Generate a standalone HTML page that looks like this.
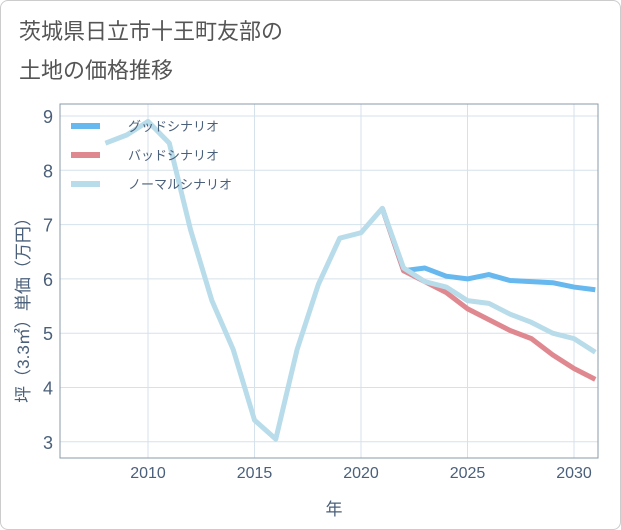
<!DOCTYPE html>
<html><head><meta charset="utf-8"><style>
body{margin:0;background:#fff;}
#wrap{position:relative;width:619px;height:528px;border:1px solid #ccc;border-radius:8px;background:#fff;overflow:hidden;font-family:"Liberation Sans","Noto Sans CJK JP",sans-serif;}
</style></head><body>
<div id="wrap">
<svg id="c" width="621" height="530"></svg>
</div>
<script>
const years=[2008,2009,2010,2011,2012,2013,2014,2015,2016,2017,2018,2019,2020,2021,2022,2023,2024,2025,2026,2027,2028,2029,2030,2031];
const normalVals=[8.5,8.65,8.9,8.5,6.9,5.6,4.7,3.4,3.05,4.7,5.9,6.75,6.85,7.3,6.2,5.95,5.85,5.6,5.55,5.35,5.2,5.0,4.9,4.65];
const futYears=[2021,2022,2023,2024,2025,2026,2027,2028,2029,2030,2031];
const goodVals=[7.3,6.15,6.2,6.05,6.0,6.08,5.97,5.95,5.93,5.85,5.8];
const badVals=[7.3,6.15,5.95,5.75,5.45,5.25,5.05,4.9,4.6,4.35,4.15];
const xTicks=[2010,2015,2020,2025,2030];
const yTicks=[3,4,5,6,7,8,9];
const legendLabels=["グッドシナリオ","バッドシナリオ","ノーマルシナリオ"];
const colors=["#66b8ee","#e08890","#b8dcea"];

const NS="http://www.w3.org/2000/svg";
const svg=document.getElementById('c');
const L=59,R=597,T=103,B=457;
const X=y=>147+(y-2010)*21.3;
const Y=v=>115+(9-v)*54.3;
function mk(t,a,p){const e=document.createElementNS(NS,t);for(const k in a)e.setAttribute(k,a[k]);(p||svg).appendChild(e);return e;}
function txt(s,a){const e=mk('text',a);e.textContent=s;return e;}

const t1=txt("茨城県日立市十王町友部の",{x:18,y:38,'font-size':22,fill:'#555'});


const t2=txt("土地の価格推移",{x:18,y:77,'font-size':22,fill:'#555'});



for(const v of yTicks){
 const g=mk('line',{x1:L,x2:R,y1:Y(v),y2:Y(v),stroke:'#d5e2ec','stroke-width':1});
 
 
 const t=txt(String(v),{x:52,y:Y(v)+7,'font-size':18,fill:'#4a5f7a','text-anchor':'end'});
 
 
}
for(const v of xTicks){
 const g=mk('line',{x1:X(v),x2:X(v),y1:T,y2:B,stroke:'#d5e2ec','stroke-width':1});
 
 
 const t=txt(String(v),{x:X(v),y:477,'font-size':16,fill:'#4a5f7a','text-anchor':'middle'});
 
 
}
const fr=mk('rect',{x:L,y:T,width:R-L,height:B-T,fill:'none',stroke:'#8a9aaa','stroke-width':1});



const cp=mk('clipPath',{id:'cp'});mk('rect',{x:L,y:T,width:R-L,height:B-T},cp);
function line(xs,vs,col,name){
 const d=xs.map((y,i)=>(i?'L':'M')+X(y)+','+Y(vs[i])).join(' ');
 const p=mk('path',{d,fill:'none',stroke:col,'stroke-width':5,'stroke-linejoin':'round','clip-path':'url(#cp)'});
 
 
}
line(futYears,goodVals,colors[0],'good-scenario-line');
line(futYears,badVals,colors[1],'bad-scenario-line');
line(years,normalVals,colors[2],'normal-scenario-line');

legendLabels.forEach((s,i)=>{
 const y=125+i*29;
 const l=mk('line',{x1:70,x2:99,y1:y,y2:y,stroke:colors[i],'stroke-width':6});
 
 
 const t=txt(s,{x:127,y:y+5,'font-size':13,fill:'#4a5f7a'});
 
 
});

const xt=txt("年",{x:333,y:514,'font-size':17,fill:'#4a5f7a','text-anchor':'middle'});


const yt=txt("坪（3.3㎡）単価（万円）",{x:0,y:0,'font-size':17,fill:'#4a5f7a','text-anchor':'middle',transform:'translate(28,305) rotate(-90)'});


</script>
</body></html>
